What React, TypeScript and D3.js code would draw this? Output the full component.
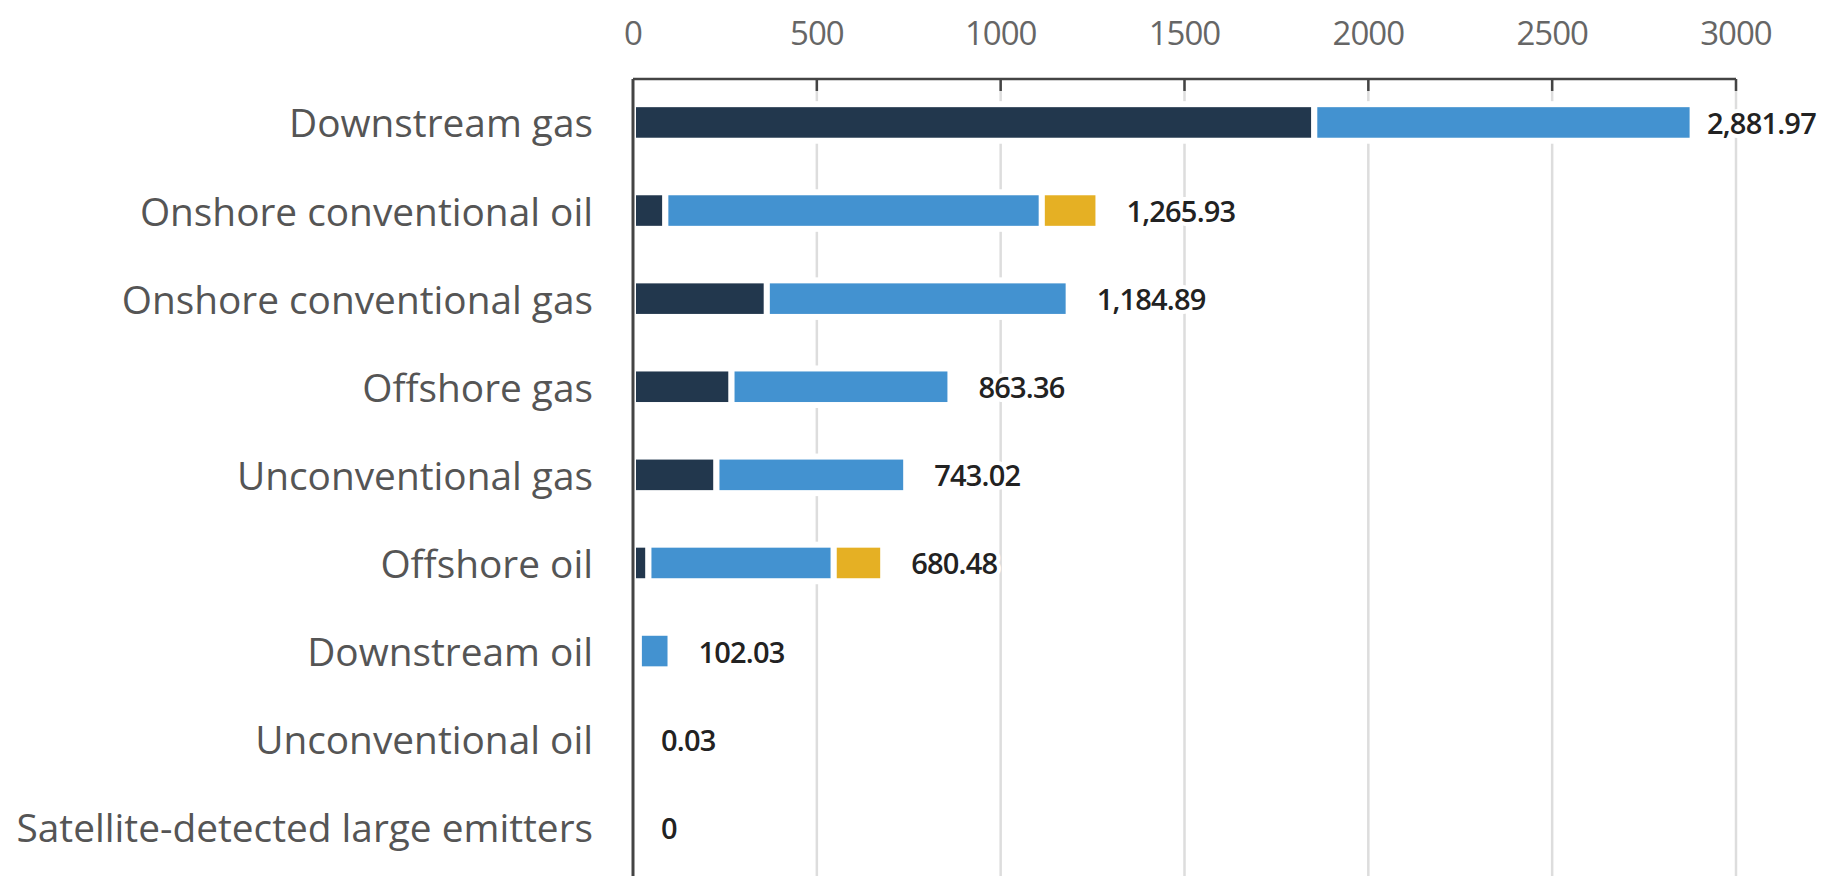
import React from "react";
import * as d3 from "d3";

const categories = [
  "Downstream gas",
  "Onshore conventional oil",
  "Onshore conventional gas",
  "Offshore gas",
  "Unconventional gas",
  "Offshore oil",
  "Downstream oil",
  "Unconventional oil",
  "Satellite-detected large emitters",
];
const seriesDark = [1853, 88, 364, 268, 227, 42, 16, 0.03, 0];
const seriesBlue = [1028.97, 1023.93, 820.89, 595.36, 516.02, 504, 86.03, 0, 0];
const seriesYellow = [0, 154, 0, 0, 0, 134.48, 0, 0, 0];
const seriesColors = ["#22374d", "#4392d0", "#e5b024"];
const xTicks = [0, 500, 1000, 1500, 2000, 2500, 3000];

const W = 1837;
const H = 876;

export default function App() {
  const x = d3.scaleLinear().domain([0, 3000]).range([633, 1736]);
  const y = d3
    .scaleBand<string>()
    .domain(categories)
    .range([78, 871.7])
    .paddingInner(0.585)
    .paddingOuter(0.297);
  const bw = y.bandwidth();

  const rows = categories.map((c, i) => ({
    cat: c,
    vals: [seriesDark[i], seriesBlue[i], seriesYellow[i]],
  }));
  const stack = d3
    .stack<{ cat: string; vals: number[] }, number>()
    .keys([0, 1, 2])
    .value((d, k) => d.vals[k]);
  const stacked = stack(rows);
  const totals = rows.map((r) => d3.sum(r.vals));
  const fmt = d3.format(",.2f");
  const axisTop = 79;

  return (
    <svg
      width={W}
      height={H}
      style={{ position: "absolute", left: 0, top: 0, background: "#fff" }}
    >
      {/* gridlines */}
      {xTicks.slice(1).map((t) => (
        <line
          key={"g" + t}
          x1={x(t)}
          x2={x(t)}
          y1={axisTop}
          y2={H}
          stroke="#dddddd"
          strokeWidth={2.5}
        />
      ))}
      {/* bars */}
      {stacked.map((layer, li) =>
        layer.map((seg, i) => {
          const w = x(seg[1]) - x(seg[0]);
          if (w <= 0.01) return null;
          return (
            <rect
              key={li + "-" + i}
              x={x(seg[0])}
              y={y(categories[i])}
              width={w}
              height={bw}
              fill={seriesColors[li]}
              stroke="#ffffff"
              strokeWidth={6}
            />
          );
        })
      )}
      {/* value labels */}
      {totals.map((t, i) => (
        <text
          key={"v" + i}
          x={Math.min(x(t) + 28, 1707)}
          y={(y(categories[i]) as number) + bw / 2}
          dominantBaseline="central"
          fontFamily="'Open Sans', sans-serif"
          fontWeight={600}
          fontSize={29}
          letterSpacing={-0.8}
          fill="#222222"
          stroke="#ffffff"
          strokeWidth={8}
          paintOrder="stroke"
        >
          {t === 0 ? "0" : fmt(t)}
        </text>
      ))}
      {/* top axis */}
      <line x1={x(0)} x2={x(3000)} y1={axisTop} y2={axisTop} stroke="#444" strokeWidth={2.5} />
      {xTicks.map((t) => (
        <line
          key={"t" + t}
          x1={x(t)}
          x2={x(t)}
          y1={axisTop}
          y2={t === 0 ? H : axisTop + 12}
          stroke="#444"
          strokeWidth={t === 0 ? 3 : 2.5}
        />
      ))}
      {xTicks.map((t) => (
        <text
          key={"l" + t}
          x={x(t)}
          y={32}
          textAnchor="middle"
          dominantBaseline="central"
          fontFamily="'Open Sans', sans-serif"
          fontSize={33}
          letterSpacing={-1}
          fill="#666666"
        >
          {t}
        </text>
      ))}
      {/* category labels */}
      {categories.map((c) => (
        <text
          key={"c" + c}
          x={593}
          y={(y(c) as number) + bw / 2}
          textAnchor="end"
          dominantBaseline="central"
          fontFamily="'Open Sans', sans-serif"
          fontSize={38.8}
          fill="#555555"
        >
          {c}
        </text>
      ))}
    </svg>
  );
}
